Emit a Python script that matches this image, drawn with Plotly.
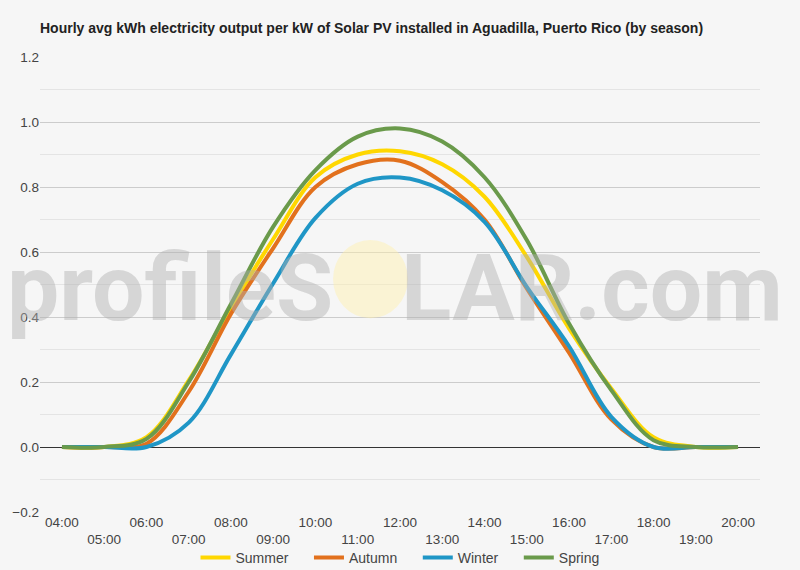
import plotly.graph_objects as go

# hourly averages, kWh per kW installed
hours = ['04:00', '05:00', '06:00', '07:00', '08:00', '09:00', '10:00', '11:00', '12:00',
         '13:00', '14:00', '15:00', '16:00', '17:00', '18:00', '19:00', '20:00']

summer = [0, 0, 0.03, 0.205, 0.43, 0.64, 0.83, 0.90, 0.91, 0.87, 0.77, 0.585, 0.365, 0.18, 0.03, 0, 0]
autumn = [0, 0, 0.01, 0.17, 0.41, 0.612, 0.80, 0.87, 0.881, 0.815, 0.70, 0.488, 0.29, 0.085, 0.0, 0, 0]
winter = [0, 0, 0.0, 0.075, 0.285, 0.504, 0.705, 0.81, 0.829, 0.79, 0.693, 0.493, 0.31, 0.093, 0.0, 0, 0]
spring = [0, 0, 0.025, 0.20, 0.44, 0.678, 0.852, 0.955, 0.98, 0.94, 0.83, 0.637, 0.38, 0.175, 0.021, 0, 0]

series = [('Summer', summer, '#FFD700'),
          ('Autumn', autumn, '#E2711D'),
          ('Winter', winter, '#1F96C6'),
          ('Spring', spring, '#6A9A4B')]

pad = '\u00a0' * 4  # wider gap between legend entries

fig = go.Figure()
for i, (name, vals, col) in enumerate(series):
    label = name + pad if i < len(series) - 1 else name
    fig.add_trace(go.Scatter(x=hours, y=vals, name=label, mode='lines',
                             line=dict(color=col, width=4, shape='spline', smoothing=1.0)))

# stagger the hour labels on two rows
ticktext = [h if i % 2 == 0 else '<br>' + h for i, h in enumerate(hours)]

fig.update_layout(
    width=800, height=570,
    margin=dict(l=40, r=40, t=57, b=58, autoexpand=False),
    paper_bgcolor='#f6f6f6', plot_bgcolor='#f6f6f6',
    font=dict(family='Arial, Liberation Sans, sans-serif', size=13.5, color='#444444'),
    title=dict(text='<b>Hourly avg kWh electricity output per kW of Solar PV installed in Aguadilla, Puerto Rico (by season)</b>',
               x=0, xref='paper', xanchor='left', y=0.951, yanchor='middle',
               font=dict(size=14, color='#222222')),
    showlegend=True,
    legend=dict(orientation='h', x=0.5, xanchor='center', y=-0.101, yanchor='middle',
                font=dict(size=14, color='#444444'), bgcolor='rgba(0,0,0,0)', itemwidth=30),
    xaxis=dict(type='category', range=[-0.52, 16.52], tickvals=hours, ticktext=ticktext,
               showgrid=False, zeroline=False, ticks='', automargin=False,
               tickfont=dict(size=13.5, color='#444444')),
    yaxis=dict(range=[-0.2, 1.2], tickvals=[-0.2, 0, 0.2, 0.4, 0.6, 0.8, 1.0, 1.2],
               tickformat='.1f', showgrid=True, gridcolor='#cccccc', gridwidth=1,
               minor=dict(dtick=0.1, showgrid=True, gridcolor='#e4e4e4'),
               zeroline=True, zerolinecolor='#333333', zerolinewidth=1,
               ticks='', automargin=False, tickfont=dict(size=13.5, color='#444444')),
    hovermode='x',
)

# watermark
wm_font = dict(family='Roboto, Arial, sans-serif', size=93, weight='bold', color='rgba(175,175,175,0.45)')
fig.add_annotation(text='profileS', xref='paper', yref='paper', x=-0.0486, y=0.492,
                   xanchor='left', yanchor='middle', showarrow=False, font=wm_font)
fig.add_annotation(text='LAR.com', xref='paper', yref='paper', x=1.035, y=0.492,
                   xanchor='right', yanchor='middle', showarrow=False, font=wm_font)
fig.add_shape(type='circle', xref='paper', yref='paper', x0=0.407, x1=0.511, y0=0.426, y1=0.598,
              fillcolor='rgba(255,240,170,0.45)', line=dict(width=0), layer='above')

fig.write_html('out.html', config={'displayModeBar': False},
               post_script="document.body.style.margin='0px';")
